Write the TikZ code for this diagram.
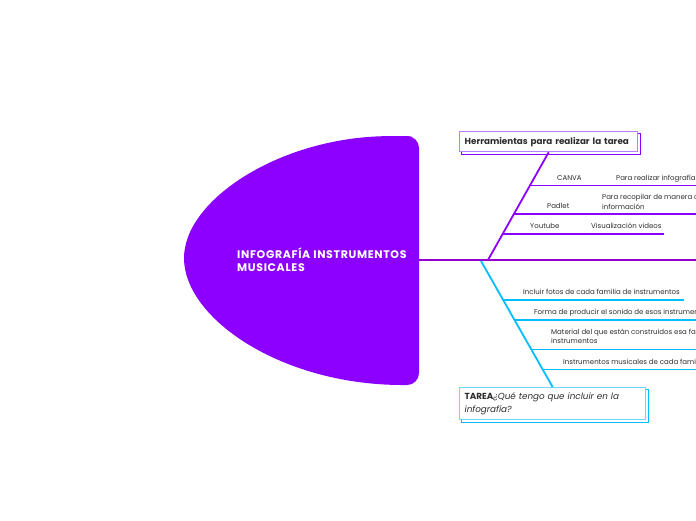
\documentclass[tikz,border=0pt]{standalone}
\usepackage{fontspec}
\setmainfont{Poppins}
\usetikzlibrary{positioning,calc,backgrounds}

\definecolor{headviolet}{RGB}{140,0,255}
\definecolor{mainpurple}{RGB}{150,0,205}
\definecolor{violetlt}{RGB}{190,125,255}
\definecolor{skyblue}{RGB}{0,190,255}
\definecolor{skylt}{RGB}{110,215,255}
\definecolor{txtgray}{RGB}{45,45,45}

\begin{document}
\begin{tikzpicture}[
  x=1pt, y=-1pt,
  font=\fontsize{7}{9.5}\selectfont,
  every node/.style={inner sep=0pt},
  title/.style ={anchor=base west, align=left, text=white,
                 font=\fontsize{11}{13}\selectfont\bfseries\addfontfeatures{LetterSpace=6}},
  leaf/.style  ={anchor=base west, align=left, text=txtgray},
  topbox/.style={rectangle, draw=violetlt, fill=white, line width=1.3pt,
                 anchor=north west, minimum width=178pt, minimum height=20pt,
                 text width=168pt, align=left, inner xsep=5pt, text=txtgray,
                 font=\fontsize{8.8}{12}\selectfont\bfseries},
  taskbox/.style={rectangle, draw=skylt, fill=white, line width=1.3pt,
                 anchor=north west, minimum width=186pt, minimum height=32pt,
                 text width=176pt, align=left, inner xsep=5pt, text=txtgray,
                 font=\fontsize{8.8}{12.5}\selectfont},
  mainline/.style={draw=mainpurple, line width=2pt},
  upline/.style ={draw=headviolet, line width=1.8pt},
  upsub/.style  ={draw=headviolet, line width=1.4pt},
  loline/.style ={draw=skyblue, line width=1.8pt},
  losub/.style  ={draw=skyblue, line width=1.4pt},
]
\clip (0,0) rectangle (696,520);
\useasboundingbox (0,0) rectangle (696,520);

% -------- central topic ---------------------------------------------------
\fill[headviolet] (419,200) [rounded corners=12pt] -- (419,136) -- (400,136)
  [sharp corners] .. controls (280,137) and (184,200) .. (184,258)
  .. controls (184,318) and (280,384) .. (400,385)
  [rounded corners=12pt] -- (419,385) -- cycle;
\node[title] (topic) at (237,271) {INFOGRAFÍA INSTRUMENTOS\\MUSICALES};

\coordinate (hub) at (419,260);
\coordinate (edge) at (696,260);
\draw[mainline] (hub) -- (edge);

% -------- main topics -----------------------------------------------------
\node[topbox] (tools) at (459,131) {\mbox{Herramientas para realizar la tarea}};
\node[taskbox] (task) at (459,387)
  {\textbf{TAREA}\textit{¿Qué tengo que incluir en la}\\\textit{infografía?}};

\begin{scope}[on background layer]
  \draw[headviolet, line width=0.9pt] ($(tools.south west)+(2.5,2.5)$) rectangle ($(tools.north east)+(2.5,2.5)$);
  \draw[skyblue, line width=0.9pt] ($(task.south west)+(2.5,2.5)$) rectangle ($(task.north east)+(2.5,2.5)$);
\end{scope}

\coordinate (up0) at (488,260);
\coordinate (lo0) at (481,261);
\draw[upline] (up0) -- (tools.south);
\draw[loline] (lo0) -- (task.north);

% -------- tools -----------------------------------------------------------
\coordinate (t1) at (530.6,185.3);
\coordinate (t2) at (514.2,214);
\coordinate (t3) at (502.8,234);
\coordinate (t1e) at (696,185.3);
\coordinate (t2e) at (696,214);
\coordinate (t3e) at (664,234);
\foreach \a/\b in {t1/t1e, t2/t2e, t3/t3e}
  \draw[upsub] (\a) -- (\b);

\node[leaf] (canva) at (557,180.5) {CANVA};
\node[leaf] (canvause) at (616,180.5) {Para realizar infografías};
\node[leaf] (padlet) at (547,208.5) {Padlet};
\node[leaf] (padletuse) at (602,209) {Para recopilar de manera conjunta\\información};
\node[leaf] (youtube) at (530,228.5) {Youtube};
\node[leaf] (youtubeuse) at (591,228.5) {Visualización videos};

% -------- task ------------------------------------------------------------
\coordinate (k1) at (503.5,300);
\coordinate (k2) at (515,320);
\coordinate (k3) at (531.9,349.3);
\coordinate (k4) at (543.4,369.3);
\coordinate (k1e) at (684,300);
\coordinate (k2e) at (696,320);
\coordinate (k3e) at (696,349.3);
\coordinate (k4e) at (696,369.3);
\foreach \a/\b in {k1/k1e, k2/k2e, k3/k3e, k4/k4e}
  \draw[losub] (\a) -- (\b);

\node[leaf] (photos) at (523,294.5) {Incluir fotos de cada familia de instrumentos};
\node[leaf] (sound) at (534,314.5) {Forma de producir el sonido de esos instrumentos};
\node[leaf] (material) at (551,343.5) {Material del que están construidos esa familia de\\instrumentos};
\node[leaf] (family) at (563,364) {Instrumentos musicales de cada familia};

\end{tikzpicture}
\end{document}
